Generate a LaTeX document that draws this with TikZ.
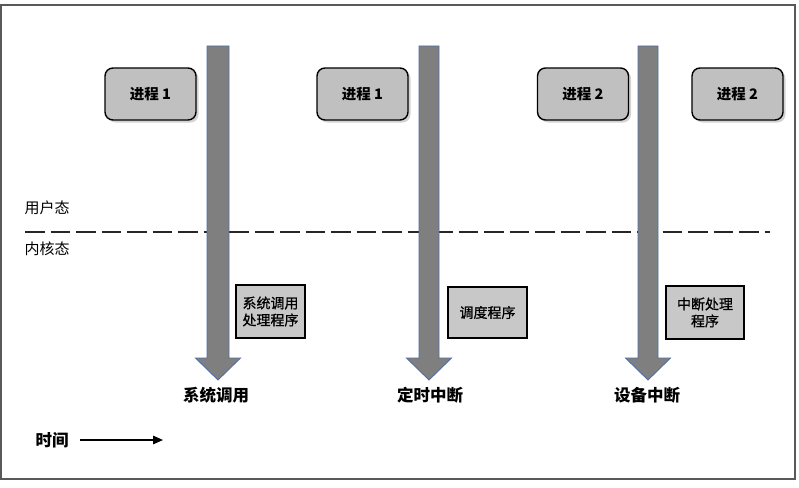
\documentclass[tikz,border=0pt]{standalone}
\usepackage{fontspec}
\setmainfont{Noto Sans CJK SC}
\newfontfamily\handfont[FakeBold=0.8]{Noto Sans CJK SC}
\usetikzlibrary{shadows,arrows.meta}
\definecolor{procfill}{HTML}{C0C0C0}
\definecolor{handfill}{HTML}{C8C8C8}
\definecolor{evfill}{HTML}{7F7F7F}
\definecolor{evline}{HTML}{4F6FA8}
\definecolor{framecol}{HTML}{595959}
\tikzset{
  frame/.style={draw=framecol, line width=2pt},
  proc/.style={draw=black, line width=1.4pt, fill=procfill, rounded corners=8pt,
    minimum width=91pt, minimum height=52pt, font=\fontsize{14.5}{16}\selectfont\bfseries,
    drop shadow={opacity=0.35, shadow xshift=2.5pt, shadow yshift=-2.5pt}},
  hand/.style={draw=black, line width=1.2pt, fill=handfill, align=center,
    font=\fontsize{14}{17}\selectfont\handfont, inner sep=2pt},
  evarrow/.style={fill=evfill, draw=evline, line width=0.9pt},
  evlabel/.style={font=\fontsize{16.5}{19}\selectfont\bfseries},
  modelabel/.style={font=\fontsize{15}{17}\selectfont},
  sep/.style={draw=black!85, line width=1.8pt, dash pattern=on 19.5pt off 6pt},
  timearrow/.style={draw=black, line width=1.4pt, -{Triangle[length=10pt,width=8.5pt]}}
}
\begin{document}
\begin{tikzpicture}[x=1pt,y=-1pt]
\useasboundingbox (0,0) rectangle (799,487);
\draw[frame] (1,5) rectangle (795,479);

% user / kernel separator
\coordinate (sepL) at (25,232);
\coordinate (sepR) at (770,232);
\draw[sep] (sepL) -- (sepR);
\node[modelabel] (user) at (47,208) {用户态};
\node[modelabel] (kernel) at (47,249) {内核态};

% process boxes
\node[proc] (p1) at (150.5,94) {进程 1};
\node[proc] (p2) at (362.5,94) {进程 1};
\node[proc] (p3) at (583,94) {进程 2};
\node[proc] (p4) at (737.5,94) {进程 2};

% event arrows
\foreach \c/\w in {218/11,429/10,648/10}{
  \draw[evarrow] (\c-\w,46) -- (\c+\w,46) -- (\c+\w,358) -- (\c+22.5,358)
     -- (\c,380) -- (\c-22.5,358) -- (\c-\w,358) -- cycle;
}

% handlers
\node[hand, minimum width=69pt, minimum height=53pt] (h1) at (270.5,311.5) {系统调用\\处理程序};
\node[hand, minimum width=79pt, minimum height=51pt] (h2) at (487.5,312.5) {调度程序};
\node[hand, minimum width=78pt, minimum height=53pt] (h3) at (705,312.5) {中断处理\\程序};

% event labels
\node[evlabel] (e1) at (216,395) {系统调用};
\node[evlabel] (e2) at (430,395) {定时中断};
\node[evlabel] (e3) at (647,395) {设备中断};

% time
\node[evlabel] (time) at (52,440) {时间};
\coordinate (tStart) at (80,440);
\coordinate (tEnd) at (163,440);
\draw[timearrow] (tStart) -- (tEnd);
\end{tikzpicture}
\end{document}
